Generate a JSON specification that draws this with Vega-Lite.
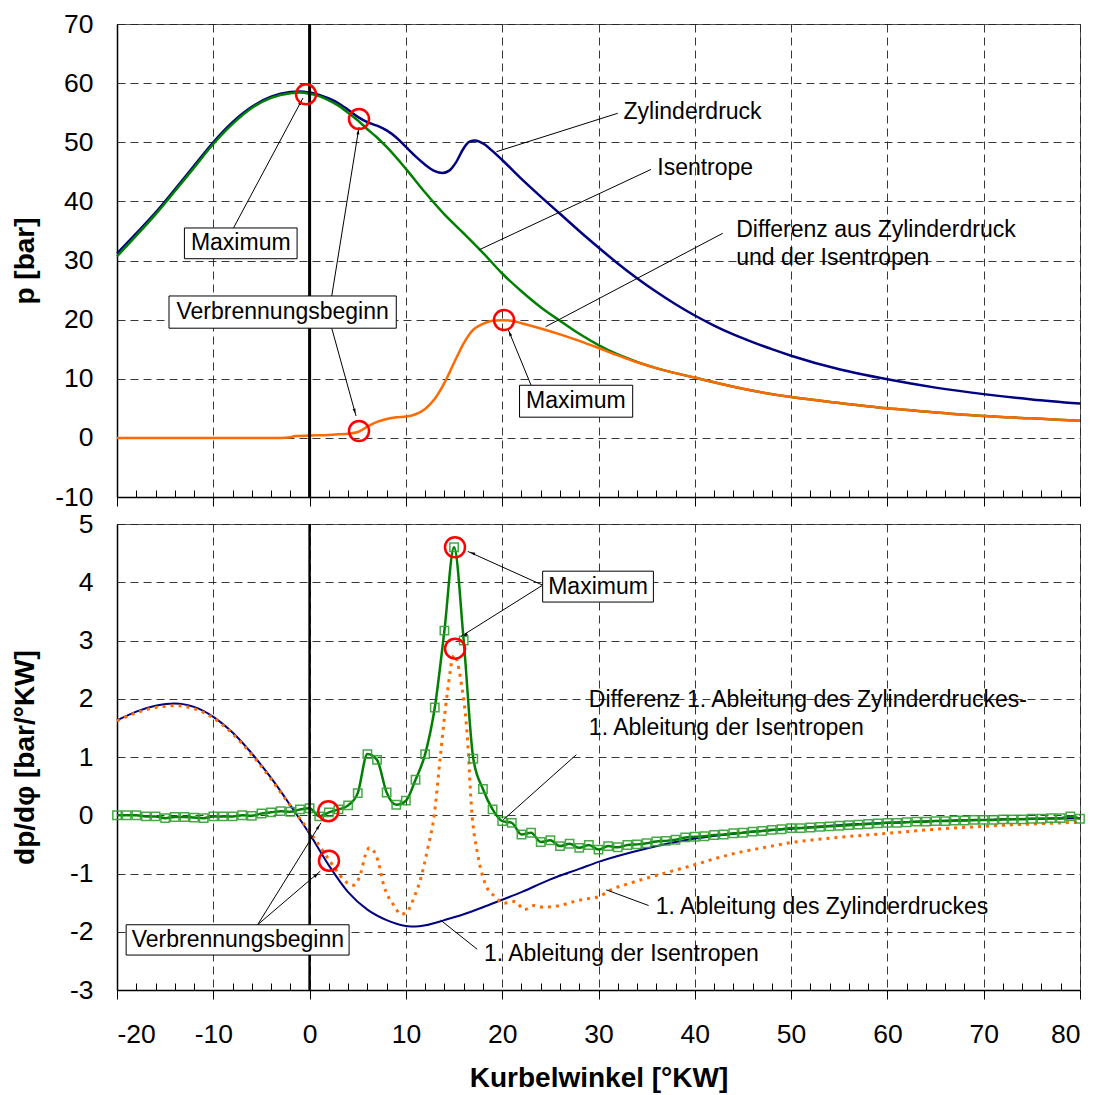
{
  "$schema": "https://vega.github.io/schema/vega-lite/v6.json",
  "background": "white",
  "padding": {"left": 10, "top": 10, "right": 2, "bottom": 5},
  "bounds": "flush",
  "spacing": 27,
  "config": {
    "font": "Liberation Sans",
    "view": {"stroke": "#555", "strokeWidth": 1},
    "axis": {
      "gridColor": "#222", "gridDash": [8, 5], "gridWidth": 1, "gridOpacity": 0.9,
      "domainColor": "black", "domainWidth": 1.5,
      "tickColor": "black", "tickWidth": 1,
      "labelFont": "Liberation Sans", "labelFontSize": 26.5, "labelColor": "black",
      "labelExpr": "'' + datum.value",
      "titleFont": "Liberation Sans", "titleFontSize": 28, "titleFontWeight": "bold", "titleColor": "black"
    },
    "text": {"font": "Liberation Sans", "fontSize": 23, "color": "black"}
  },
  "datasets": {
    "top_zyl": [
      {"x":-20,"y":31.2},{"x":-18,"y":34.6},{"x":-16,"y":38.1},{"x":-14,"y":42.0},{"x":-12,"y":46.0},{"x":-10,"y":50.0},{"x":-8,"y":53.4},{"x":-6,"y":56.0},{"x":-4,"y":57.7},{"x":-2,"y":58.5},{"x":-1,"y":58.6},{"x":0,"y":58.4},{"x":1,"y":58.0},{"x":2,"y":57.4},{"x":3,"y":56.6},{"x":4,"y":55.5},{"x":5,"y":54.3},{"x":6,"y":53.4},{"x":7,"y":52.8},{"x":8,"y":52.0},{"x":9,"y":50.8},{"x":10,"y":49.2},{"x":11,"y":47.6},{"x":12,"y":46.2},{"x":13,"y":45.1},{"x":13.8,"y":44.8},{"x":14.5,"y":45.2},{"x":15.2,"y":46.6},{"x":16,"y":49.0},{"x":16.6,"y":50.1},{"x":17.2,"y":50.3},{"x":18,"y":49.8},{"x":19,"y":48.5},{"x":20,"y":47.0},{"x":22,"y":43.8},{"x":24,"y":40.8},{"x":26,"y":37.9},{"x":28,"y":35.0},{"x":30,"y":32.2},{"x":32,"y":29.5},{"x":34,"y":27.0},{"x":36,"y":24.7},{"x":38,"y":22.6},{"x":40,"y":20.7},{"x":42,"y":19.0},{"x":44,"y":17.5},{"x":46,"y":16.2},{"x":48,"y":15.0},{"x":50,"y":13.9},{"x":55,"y":11.6},{"x":60,"y":9.9},{"x":65,"y":8.5},{"x":70,"y":7.4},{"x":75,"y":6.5},{"x":80,"y":5.8}
    ],
    "top_isen": [
      {"x":-20,"y":30.7},{"x":-18,"y":34.2},{"x":-16,"y":37.8},{"x":-14,"y":41.7},{"x":-12,"y":45.7},{"x":-10,"y":49.7},{"x":-8,"y":53.1},{"x":-6,"y":55.8},{"x":-4,"y":57.5},{"x":-2,"y":58.3},{"x":-1,"y":58.4},{"x":0,"y":58.2},{"x":1,"y":57.8},{"x":2,"y":57.1},{"x":3,"y":56.2},{"x":4,"y":55.0},{"x":5,"y":53.7},{"x":6,"y":52.2},{"x":7,"y":50.8},{"x":8,"y":49.2},{"x":10,"y":45.5},{"x":12,"y":41.5},{"x":14,"y":37.8},{"x":16,"y":34.6},{"x":18,"y":31.3},{"x":20,"y":27.8},{"x":22,"y":24.8},{"x":24,"y":22.1},{"x":26,"y":19.8},{"x":28,"y":17.6},{"x":30,"y":15.7},{"x":32,"y":14.1},{"x":34,"y":12.85},{"x":36,"y":11.8},{"x":38,"y":10.95},{"x":40,"y":10.2},{"x":42,"y":9.4},{"x":45,"y":8.3},{"x":50,"y":6.9},{"x":55,"y":5.9},{"x":60,"y":5.0},{"x":65,"y":4.3},{"x":70,"y":3.7},{"x":75,"y":3.3},{"x":80,"y":2.9}
    ],
    "top_diff": [
      {"x":-20,"y":0},{"x":-10,"y":0},{"x":-3,"y":0},{"x":-2,"y":0.1},{"x":-1.5,"y":0.3},{"x":0,"y":0.4},{"x":2,"y":0.5},{"x":3,"y":0.6},{"x":4,"y":0.7},{"x":5,"y":1.0},{"x":5.5,"y":1.4},{"x":6,"y":1.9},{"x":7,"y":2.7},{"x":8,"y":3.2},{"x":9,"y":3.5},{"x":10,"y":3.6},{"x":11,"y":4.0},{"x":12,"y":4.9},{"x":13,"y":6.6},{"x":14,"y":9.3},{"x":15,"y":12.7},{"x":16,"y":16.0},{"x":17,"y":18.3},{"x":18,"y":19.3},{"x":19,"y":19.8},{"x":20,"y":19.9},{"x":21,"y":19.8},{"x":22,"y":19.4},{"x":24,"y":18.5},{"x":26,"y":17.5},{"x":28,"y":16.4},{"x":30,"y":15.2},{"x":32,"y":13.95},{"x":34,"y":12.8},{"x":36,"y":11.8},{"x":38,"y":10.95},{"x":40,"y":10.2},{"x":42,"y":9.4},{"x":45,"y":8.3},{"x":50,"y":6.9},{"x":55,"y":5.9},{"x":60,"y":5.0},{"x":65,"y":4.3},{"x":70,"y":3.7},{"x":75,"y":3.3},{"x":80,"y":2.9}
    ],
    "d_isen": [
      {"x":-20,"y":1.63},{"x":-18,"y":1.78},{"x":-16,"y":1.88},{"x":-14,"y":1.92},{"x":-12,"y":1.86},{"x":-10,"y":1.69},{"x":-8,"y":1.42},{"x":-6,"y":1.06},{"x":-4,"y":0.64},{"x":-2,"y":0.17},{"x":0,"y":-0.32},{"x":2,"y":-0.86},{"x":4,"y":-1.32},{"x":6,"y":-1.62},{"x":8,"y":-1.80},{"x":10,"y":-1.90},{"x":11,"y":-1.91},{"x":12,"y":-1.89},{"x":14,"y":-1.80},{"x":16,"y":-1.70},{"x":18,"y":-1.58},{"x":20,"y":-1.45},{"x":22,"y":-1.32},{"x":25,"y":-1.10},{"x":28,"y":-0.92},{"x":30,"y":-0.80},{"x":35,"y":-0.57},{"x":40,"y":-0.40},{"x":45,"y":-0.30},{"x":50,"y":-0.23},{"x":55,"y":-0.17},{"x":60,"y":-0.13},{"x":65,"y":-0.10},{"x":70,"y":-0.08},{"x":75,"y":-0.06},{"x":80,"y":-0.05}
    ],
    "d_zyl": [
      {"x":-20,"y":1.62},{"x":-18,"y":1.76},{"x":-16,"y":1.85},{"x":-14,"y":1.88},{"x":-12,"y":1.83},{"x":-10,"y":1.67},{"x":-8,"y":1.40},{"x":-6,"y":1.04},{"x":-4,"y":0.62},{"x":-2,"y":0.16},{"x":0,"y":-0.28},{"x":1,"y":-0.52},{"x":2,"y":-0.76},{"x":3,"y":-1.0},{"x":4,"y":-1.17},{"x":4.6,"y":-1.2},{"x":5.3,"y":-1.0},{"x":5.8,"y":-0.68},{"x":6.2,"y":-0.56},{"x":6.6,"y":-0.6},{"x":7.1,"y":-0.78},{"x":7.7,"y":-1.2},{"x":8.8,"y":-1.56},{"x":9.5,"y":-1.7},{"x":10.1,"y":-1.66},{"x":10.9,"y":-1.39},{"x":11.6,"y":-1.05},{"x":12.3,"y":-0.54},{"x":12.9,"y":-0.05},{"x":13.6,"y":1.05},{"x":14.3,"y":2.1},{"x":15,"y":2.75},{"x":15.7,"y":2.32},{"x":16.4,"y":1.3},{"x":16.8,"y":0.15},{"x":17.5,"y":-0.71},{"x":18.3,"y":-1.2},{"x":19.2,"y":-1.39},{"x":20.2,"y":-1.51},{"x":21.3,"y":-1.48},{"x":22.3,"y":-1.62},{"x":23.3,"y":-1.55},{"x":24.3,"y":-1.58},{"x":25,"y":-1.57},{"x":26,"y":-1.55},{"x":27.7,"y":-1.47},{"x":29,"y":-1.43},{"x":30,"y":-1.4},{"x":31.4,"y":-1.27},{"x":33,"y":-1.18},{"x":35,"y":-1.08},{"x":37.6,"y":-0.96},{"x":40,"y":-0.85},{"x":42,"y":-0.75},{"x":44,"y":-0.66},{"x":47,"y":-0.56},{"x":50,"y":-0.47},{"x":55,"y":-0.38},{"x":60,"y":-0.31},{"x":65,"y":-0.24},{"x":70,"y":-0.19},{"x":75,"y":-0.15},{"x":80,"y":-0.12}
    ],
    "d_diff": [
      {"x":-20,"y":0.0},{"x":-19,"y":0.0},{"x":-18,"y":0.0},{"x":-17,"y":-0.02},{"x":-16,"y":-0.02},{"x":-15,"y":-0.05},{"x":-14,"y":-0.03},{"x":-13,"y":-0.03},{"x":-12,"y":-0.04},{"x":-11,"y":-0.05},{"x":-10,"y":-0.02},{"x":-9,"y":-0.02},{"x":-8,"y":-0.02},{"x":-7,"y":0.0},{"x":-6,"y":-0.01},{"x":-5,"y":0.03},{"x":-4,"y":0.05},{"x":-3,"y":0.07},{"x":-2,"y":0.06},{"x":-1,"y":0.1},{"x":0,"y":0.12},{"x":1,"y":-0.02},{"x":2,"y":0.05},{"x":3,"y":0.1},{"x":4,"y":0.17},{"x":5,"y":0.38},{"x":6,"y":1.05},{"x":7,"y":0.95},{"x":8,"y":0.39},{"x":9,"y":0.18},{"x":10,"y":0.25},{"x":11,"y":0.61},{"x":12,"y":1.05},{"x":13,"y":1.85},{"x":14,"y":3.17},{"x":15,"y":4.6},{"x":16,"y":3.0},{"x":17,"y":0.97},{"x":18,"y":0.45},{"x":19,"y":0.1},{"x":20,"y":-0.1},{"x":21,"y":-0.13},{"x":22,"y":-0.33},{"x":23,"y":-0.3},{"x":24,"y":-0.46},{"x":25,"y":-0.43},{"x":26,"y":-0.53},{"x":27,"y":-0.49},{"x":28,"y":-0.56},{"x":29,"y":-0.51},{"x":30,"y":-0.59},{"x":31,"y":-0.53},{"x":32,"y":-0.55},{"x":33,"y":-0.51},{"x":34,"y":-0.5},{"x":35,"y":-0.48},{"x":36,"y":-0.45},{"x":37,"y":-0.44},{"x":38,"y":-0.42},{"x":39,"y":-0.38},{"x":40,"y":-0.37},{"x":41,"y":-0.36},{"x":42,"y":-0.34},{"x":43,"y":-0.33},{"x":44,"y":-0.31},{"x":45,"y":-0.3},{"x":46,"y":-0.28},{"x":47,"y":-0.27},{"x":48,"y":-0.25},{"x":49,"y":-0.24},{"x":50,"y":-0.22},{"x":51,"y":-0.22},{"x":52,"y":-0.21},{"x":53,"y":-0.2},{"x":54,"y":-0.19},{"x":55,"y":-0.18},{"x":56,"y":-0.17},{"x":57,"y":-0.16},{"x":58,"y":-0.15},{"x":59,"y":-0.14},{"x":60,"y":-0.13},{"x":61,"y":-0.13},{"x":62,"y":-0.12},{"x":63,"y":-0.11},{"x":64,"y":-0.11},{"x":65,"y":-0.1},{"x":66,"y":-0.1},{"x":67,"y":-0.09},{"x":68,"y":-0.09},{"x":69,"y":-0.08},{"x":70,"y":-0.08},{"x":71,"y":-0.08},{"x":72,"y":-0.07},{"x":73,"y":-0.07},{"x":74,"y":-0.07},{"x":75,"y":-0.06},{"x":76,"y":-0.06},{"x":77,"y":-0.05},{"x":78,"y":-0.05},{"x":79,"y":-0.02},{"x":80,"y":-0.06}
    ],
    "zero": [{"x": 0}],
    "circ_top": [{"x":-0.37,"y":58.1},{"x":5.13,"y":53.93},{"x":5.13,"y":1.16},{"x":20.19,"y":19.94}],
    "circ_bot": [{"x":15.1,"y":4.6},{"x":15.1,"y":2.86},{"x":1.94,"y":0.07},{"x":2.01,"y":-0.78}],
    "lead_top": [
      {"x":32.0,"y":54.9,"x2":19.4,"y2":48.4},
      {"x":35.45,"y":45.4,"x2":17.6,"y2":31.8},
      {"x":42.9,"y":34.6,"x2":24.5,"y2":18.8},
      {"x":-7.92,"y":35.45,"x2":-0.69,"y2":57.48},
      {"x":2.3,"y":24.0,"x2":5.13,"y2":52.58},
      {"x":2.3,"y":18.55,"x2":4.82,"y2":3.70},
      {"x":23.0,"y":8.9,"x2":20.6,"y2":18.41}
    ],
    "head_top": [
      {"x":-0.94,"y":56.74,"a":28},
      {"x":5.05,"y":51.75,"a":9},
      {"x":4.68,"y":4.51,"a":165},
      {"x":20.8,"y":17.64,"a":338}
    ],
    "box_top": [
      {"x":-13.0,"x2":-1.3,"y":30.3,"y2":35.5},
      {"x":-14.6,"x2":9.0,"y":18.55,"y2":24.0},
      {"x":21.8,"x2":33.55,"y":3.5,"y2":8.9}
    ],
    "boxtext_top": [
      {"x":-7.15,"y":32.9,"t":"Maximum"},
      {"x":-2.8,"y":21.3,"t":"Verbrennungsbeginn"},
      {"x":27.65,"y":6.2,"t":"Maximum"}
    ],
    "text_top": [
      {"x":32.6,"y":55.1,"t":"Zylinderdruck"},
      {"x":36.1,"y":45.6,"t":"Isentrope"},
      {"x":44.3,"y":35.2,"t":"Differenz aus Zylinderdruck"},
      {"x":44.3,"y":30.4,"t":"und der Isentropen"}
    ],
    "lead_bot": [
      {"x":24.2,"y":3.95,"x2":16.42,"y2":4.53},
      {"x":24.2,"y":3.95,"x2":15.72,"y2":3.07},
      {"x":27.7,"y":1.04,"x2":20.1,"y2":-0.08},
      {"x":35.2,"y":-1.55,"x2":30.8,"y2":-1.28},
      {"x":17.4,"y":-2.30,"x2":13.6,"y2":-1.80},
      {"x":-5.4,"y":-1.88,"x2":1.18,"y2":-0.13},
      {"x":-5.4,"y":-1.88,"x2":1.11,"y2":-0.96}
    ],
    "head_bot": [
      {"x":16.92,"y":4.50,"a":295},
      {"x":16.16,"y":3.09,"a":238},
      {"x":0.91,"y":-0.20,"a":32},
      {"x":0.69,"y":-1.03,"a":50}
    ],
    "box_bot": [
      {"x":24.2,"x2":35.7,"y":3.66,"y2":4.19},
      {"x":-19.05,"x2":4.1,"y":-2.40,"y2":-1.88}
    ],
    "boxtext_bot": [
      {"x":29.95,"y":3.925,"t":"Maximum"},
      {"x":-7.45,"y":-2.14,"t":"Verbrennungsbeginn"}
    ],
    "text_bot": [
      {"x":29.0,"y":1.98,"t":"Differenz 1. Ableitung des Zylinderdruckes-"},
      {"x":29.0,"y":1.50,"t":"1. Ableitung der Isentropen"},
      {"x":35.95,"y":-1.57,"t":"1. Ableitung des Zylinderdruckes"},
      {"x":18.1,"y":-2.39,"t":"1. Ableitung der Isentropen"}
    ]
  },
  "vconcat": [
    {
      "width": 963,
      "height": 473,
      "resolve": {"axis": {"x": "independent"}},
      "layer": [
        {
          "data": {"name": "top_zyl"},
          "mark": {"type": "line", "color": "#000080", "strokeWidth": 2.5, "interpolate": "monotone"},
          "encoding": {
            "x": {"field": "x", "type": "quantitative", "scale": {"domain": [-20, 80], "nice": false},
                  "axis": {"orient": "bottom", "values": [-20,-10,0,10,20,30,40,50,60,70,80], "labels": false, "title": null, "grid": true, "tickSize": 9}},
            "y": {"field": "y", "type": "quantitative", "scale": {"domain": [-10, 70], "nice": false},
                  "axis": {"values": [-10,0,10,20,30,40,50,60,70], "grid": true, "ticks": false, "labelPadding": 24, "title": "p [bar]", "titleX": -78}}
          }
        },
        {
          "data": {"name": "top_isen"},
          "mark": {"type": "line", "color": "#008000", "strokeWidth": 2.5, "interpolate": "monotone"},
          "encoding": {
            "x": {"field": "x", "type": "quantitative",
                  "axis": {"orient": "bottom", "values": [-18,-16,-14,-12,-8,-6,-4,-2,2,4,6,8,12,14,16,18,22,24,26,28,32,34,36,38,42,44,46,48,52,54,56,58,62,64,66,68,72,74,76,78], "labels": false, "title": null, "grid": false, "domain": false, "tickSize": -7}},
            "y": {"field": "y", "type": "quantitative"}
          }
        },
        {
          "data": {"name": "top_diff"},
          "mark": {"type": "line", "color": "#ff6a00", "strokeWidth": 2.5, "interpolate": "monotone"},
          "encoding": {"x": {"field": "x", "type": "quantitative", "axis": null}, "y": {"field": "y", "type": "quantitative"}}
        },
        {
          "data": {"name": "zero"},
          "mark": {"type": "rule", "color": "black", "strokeWidth": 3},
          "encoding": {"x": {"field": "x", "type": "quantitative", "axis": null}}
        },
        {
          "data": {"name": "lead_top"},
          "mark": {"type": "rule", "color": "black", "strokeWidth": 1},
          "encoding": {"x": {"field": "x", "type": "quantitative", "axis": null}, "y": {"field": "y", "type": "quantitative"}, "x2": {"field": "x2"}, "y2": {"field": "y2"}}
        },
        {
          "data": {"name": "head_top"},
          "mark": {"type": "point", "shape": "M0,-0.5L0.3,0.5L-0.3,0.5Z", "filled": true, "color": "black", "size": 100, "opacity": 1},
          "encoding": {"x": {"field": "x", "type": "quantitative", "axis": null}, "y": {"field": "y", "type": "quantitative"}, "angle": {"field": "a", "type": "quantitative", "scale": null}}
        },
        {
          "data": {"name": "box_top"},
          "mark": {"type": "rect", "fill": "white", "stroke": "black", "strokeWidth": 1},
          "encoding": {"x": {"field": "x", "type": "quantitative", "axis": null}, "x2": {"field": "x2"}, "y": {"field": "y", "type": "quantitative"}, "y2": {"field": "y2"}}
        },
        {
          "data": {"name": "boxtext_top"},
          "mark": {"type": "text", "align": "center", "baseline": "middle"},
          "encoding": {"x": {"field": "x", "type": "quantitative", "axis": null}, "y": {"field": "y", "type": "quantitative"}, "text": {"field": "t"}}
        },
        {
          "data": {"name": "text_top"},
          "mark": {"type": "text", "align": "left", "baseline": "middle"},
          "encoding": {"x": {"field": "x", "type": "quantitative", "axis": null}, "y": {"field": "y", "type": "quantitative"}, "text": {"field": "t"}}
        },
        {
          "data": {"name": "circ_top"},
          "mark": {"type": "point", "shape": "circle", "filled": false, "color": "#ff0000", "size": 400, "strokeWidth": 2.5, "opacity": 1},
          "encoding": {"x": {"field": "x", "type": "quantitative", "axis": null}, "y": {"field": "y", "type": "quantitative"}}
        }
      ]
    },
    {
      "width": 963,
      "height": 466,
      "resolve": {"axis": {"x": "independent"}},
      "layer": [
        {
          "data": {"name": "d_isen"},
          "mark": {"type": "line", "color": "#000080", "strokeWidth": 2, "interpolate": "monotone"},
          "encoding": {
            "x": {"field": "x", "type": "quantitative", "scale": {"domain": [-20, 80], "nice": false},
                  "axis": {"orient": "bottom", "values": [-20,-10,0,10,20,30,40,50,60,70,80], "title": "Kurbelwinkel [°KW]", "grid": true, "tickSize": 9, "labelPadding": 22, "titlePadding": 17}},
            "y": {"field": "y", "type": "quantitative", "scale": {"domain": [-3, 5], "nice": false},
                  "axis": {"values": [-3,-2,-1,0,1,2,3,4,5], "grid": true, "ticks": false, "labelPadding": 24, "title": "dp/dφ [bar/°KW]", "titleX": -78}}
          }
        },
        {
          "data": {"name": "d_zyl"},
          "mark": {"type": "line", "color": "#ff6a00", "strokeWidth": 3, "strokeDash": [3, 5], "interpolate": "monotone"},
          "encoding": {
            "x": {"field": "x", "type": "quantitative",
                  "axis": {"orient": "bottom", "values": [-18,-16,-14,-12,-8,-6,-4,-2,2,4,6,8,12,14,16,18,22,24,26,28,32,34,36,38,42,44,46,48,52,54,56,58,62,64,66,68,72,74,76,78], "labels": false, "title": null, "grid": false, "domain": false, "tickSize": -7}},
            "y": {"field": "y", "type": "quantitative"}
          }
        },
        {
          "data": {"name": "d_diff"},
          "mark": {"type": "line", "color": "#008000", "strokeWidth": 2.5, "interpolate": "monotone"},
          "encoding": {"x": {"field": "x", "type": "quantitative", "axis": null}, "y": {"field": "y", "type": "quantitative"}}
        },
        {
          "data": {"name": "d_diff"},
          "mark": {"type": "point", "shape": "square", "filled": false, "color": "#33a033", "size": 70, "strokeWidth": 1.5, "opacity": 0.9},
          "encoding": {"x": {"field": "x", "type": "quantitative", "axis": null}, "y": {"field": "y", "type": "quantitative"}}
        },
        {
          "data": {"name": "zero"},
          "mark": {"type": "rule", "color": "black", "strokeWidth": 2.5},
          "encoding": {"x": {"field": "x", "type": "quantitative", "axis": null}}
        },
        {
          "data": {"name": "lead_bot"},
          "mark": {"type": "rule", "color": "black", "strokeWidth": 1},
          "encoding": {"x": {"field": "x", "type": "quantitative", "axis": null}, "y": {"field": "y", "type": "quantitative"}, "x2": {"field": "x2"}, "y2": {"field": "y2"}}
        },
        {
          "data": {"name": "head_bot"},
          "mark": {"type": "point", "shape": "M0,-0.5L0.3,0.5L-0.3,0.5Z", "filled": true, "color": "black", "size": 100, "opacity": 1},
          "encoding": {"x": {"field": "x", "type": "quantitative", "axis": null}, "y": {"field": "y", "type": "quantitative"}, "angle": {"field": "a", "type": "quantitative", "scale": null}}
        },
        {
          "data": {"name": "box_bot"},
          "mark": {"type": "rect", "fill": "white", "stroke": "black", "strokeWidth": 1},
          "encoding": {"x": {"field": "x", "type": "quantitative", "axis": null}, "x2": {"field": "x2"}, "y": {"field": "y", "type": "quantitative"}, "y2": {"field": "y2"}}
        },
        {
          "data": {"name": "boxtext_bot"},
          "mark": {"type": "text", "align": "center", "baseline": "middle"},
          "encoding": {"x": {"field": "x", "type": "quantitative", "axis": null}, "y": {"field": "y", "type": "quantitative"}, "text": {"field": "t"}}
        },
        {
          "data": {"name": "text_bot"},
          "mark": {"type": "text", "align": "left", "baseline": "middle"},
          "encoding": {"x": {"field": "x", "type": "quantitative", "axis": null}, "y": {"field": "y", "type": "quantitative"}, "text": {"field": "t"}}
        },
        {
          "data": {"name": "circ_bot"},
          "mark": {"type": "point", "shape": "circle", "filled": false, "color": "#ff0000", "size": 400, "strokeWidth": 2.5, "opacity": 1},
          "encoding": {"x": {"field": "x", "type": "quantitative", "axis": null}, "y": {"field": "y", "type": "quantitative"}}
        }
      ]
    }
  ]
}
